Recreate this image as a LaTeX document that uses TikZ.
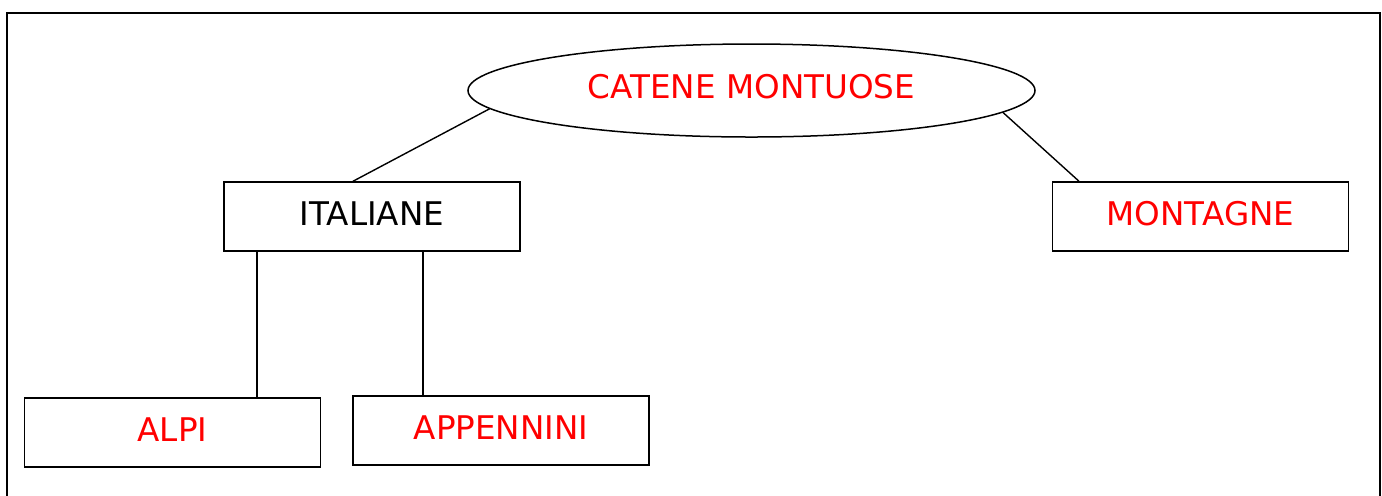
\documentclass[tikz,border=0pt]{standalone}
\usepackage{fontspec}
\setmainfont{DejaVu Sans}
\usetikzlibrary{shapes.geometric,calc}
\begin{document}
\begin{tikzpicture}[x=0.5pt,y=-0.5pt,
  box/.style={draw,line width=0.75pt,minimum width=148pt,minimum height=34.5pt,inner sep=0pt,text depth=3pt,font=\fontsize{16.3}{19}\selectfont},
  oval/.style={draw,ellipse,line width=0.75pt,minimum width=283.5pt,minimum height=46.5pt,inner sep=0pt,text depth=4pt,font=\fontsize{16.3}{19}\selectfont},
  link/.style={line width=0.7pt},
  frame/.style={line width=1.1pt}]
\useasboundingbox (0,0) rectangle (1382,495);
\draw[frame] (7,497) -- (7,13) -- (1380,13) -- (1380,497);
\node[oval,text=red] (cat) at (751.5,90.5) {CATENE MONTUOSE};
\node[box] (ital) at (372,216.5) {ITALIANE};
\node[box,text=red] (mont) at (1200.5,216.5) {MONTAGNE};
\node[box,text=red] (alpi) at (172.5,432.5) {ALPI};
\node[box,text=red] (app) at (501,430.5) {APPENNINI};
\draw[link] (cat.184.6) -- ([xshift=-9.5pt]ital.north);
\draw[link] (cat.355.2) -- ([xshift=-60.75pt]mont.north);
\coordinate (a1) at ([xshift=-57.5pt]ital.south);
\coordinate (a2) at ([xshift=25.5pt]ital.south);
\draw[link] (a1) -- (a1 |- alpi.north);
\draw[link] (a2) -- (a2 |- app.north);
\end{tikzpicture}
\end{document}
